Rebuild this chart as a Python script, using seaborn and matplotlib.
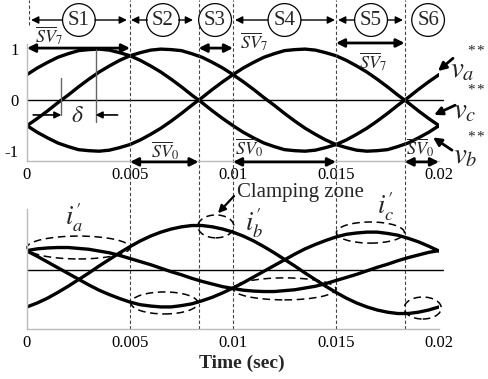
import numpy as np
import matplotlib
matplotlib.use("Agg")
import matplotlib.pyplot as plt
from matplotlib.patches import Ellipse
import seaborn as sns

# ---------------- data ----------------
time_s = np.linspace(0.0, 0.02, 41)  # one 50 Hz period, 0.5 ms samples

# modified voltage references (p.u.)
va_ref = [0.50, 0.63, 0.74, 0.84, 0.91, 0.97, 0.99, 1.00, 0.98, 0.93, 0.87,
          0.78, 0.67, 0.55, 0.41, 0.26, 0.10, -0.05, -0.21, -0.36, -0.50,
          -0.63, -0.74, -0.84, -0.91, -0.97, -0.99, -1.00, -0.98, -0.93, -0.87,
          -0.78, -0.67, -0.55, -0.41, -0.26, -0.10, 0.05, 0.21, 0.36, 0.50]
vb_ref = [-0.50, -0.36, -0.21, -0.05, 0.10, 0.26, 0.41, 0.55, 0.67, 0.78, 0.87,
          0.93, 0.98, 1.00, 0.99, 0.97, 0.91, 0.84, 0.74, 0.63, 0.50,
          0.36, 0.21, 0.05, -0.10, -0.26, -0.41, -0.55, -0.67, -0.78, -0.87,
          -0.93, -0.98, -1.00, -0.99, -0.97, -0.91, -0.84, -0.74, -0.63, -0.50]
vc_ref = [-0.50, -0.63, -0.74, -0.84, -0.91, -0.97, -0.99, -1.00, -0.98, -0.93, -0.87,
          -0.78, -0.67, -0.55, -0.41, -0.26, -0.10, 0.05, 0.21, 0.36, 0.50,
          0.63, 0.74, 0.84, 0.91, 0.97, 0.99, 1.00, 0.98, 0.93, 0.87,
          0.78, 0.67, 0.55, 0.41, 0.26, 0.10, -0.05, -0.21, -0.36, -0.50]

# phase currents (normalised)
ia_cur = [0.43, 0.47, 0.49, 0.50, 0.50, 0.48, 0.46, 0.42, 0.38, 0.32, 0.25,
          0.18, 0.11, 0.03, -0.05, -0.12, -0.20, -0.27, -0.33, -0.39, -0.43,
          -0.47, -0.49, -0.50, -0.50, -0.48, -0.46, -0.42, -0.38, -0.32, -0.25,
          -0.18, -0.11, -0.03, 0.05, 0.12, 0.20, 0.27, 0.33, 0.39, 0.43]
ib_cur = [-0.85, -0.76, -0.65, -0.52, -0.38, -0.23, -0.08, 0.08, 0.23, 0.38, 0.52,
          0.65, 0.76, 0.85, 0.92, 0.97, 1.00, 1.00, 0.97, 0.92, 0.85,
          0.76, 0.65, 0.52, 0.38, 0.23, 0.08, -0.08, -0.23, -0.38, -0.52,
          -0.65, -0.76, -0.85, -0.92, -0.97, -1.00, -1.00, -0.97, -0.92, -0.85]
ic_cur = [0.42, 0.30, 0.17, 0.04, -0.09, -0.22, -0.35, -0.47, -0.57, -0.66, -0.74,
          -0.80, -0.83, -0.85, -0.85, -0.82, -0.78, -0.71, -0.63, -0.53, -0.42,
          -0.30, -0.17, -0.04, 0.09, 0.22, 0.35, 0.47, 0.57, 0.66, 0.74,
          0.80, 0.83, 0.85, 0.85, 0.82, 0.78, 0.71, 0.63, 0.53, 0.42]

# sector boundaries and names
sector_edges = [0.0, 0.005, 0.00833, 0.01, 0.015, 0.01833]
sector_names = ["S1", "S2", "S3", "S4", "S5", "S6"]
sector_centres = [0.00252, 0.0066, 0.00913, 0.0125, 0.0167, 0.01947]

x_ticks = [0, 0.005, 0.01, 0.015, 0.02]
x_tick_labels = ["0", "0.005", "0.01", "0.015", "0.02"]
y_ticks_top = [-1, 0, 1]
y_tick_labels_top = ["-1", "0", "1"]

# ---------------- style ----------------
sns.set_theme(style="white")
plt.rcParams["font.family"] = ["Liberation Serif", "DejaVu Serif"]
plt.rcParams["mathtext.fontset"] = "stix"
plt.rcParams["axes.unicode_minus"] = False

fig = plt.figure(figsize=(4.88, 3.79), dpi=100)
ax1 = fig.add_axes([0.0553, 0.5747, 0.8443, 0.3092])
ax2 = fig.add_axes([0.0553, 0.1319, 0.8443, 0.3166])

SPINE = "#bbbbbb"
for ax in (ax1, ax2):
    ax.patch.set_visible(False)
    for s in ("top", "right"):
        ax.spines[s].set_visible(False)
    for s in ("left", "bottom"):
        ax.spines[s].set_color(SPINE)
        ax.spines[s].set_linewidth(1.0)
    ax.set_xlim(0, 0.02)
    ax.set_xticks(x_ticks)
    ax.set_xticklabels(x_tick_labels)
    ax.tick_params(direction="in", length=3, color=SPINE, labelsize=12,
                   pad=4, labelcolor="black")
    ax.axhline(0, xmin=0, xmax=1.01, color="black", lw=1.0, clip_on=False)

ax1.set_ylim(-1.196, 1.1)
ax1.set_yticks(y_ticks_top)
ax1.set_yticklabels(y_tick_labels_top)
ax1.tick_params(axis="y", pad=6)
ax2.set_ylim(-1.352, 1.375)
ax2.set_yticks([])

LW = 2.4
for ser in (va_ref, vb_ref, vc_ref):
    sns.lineplot(x=time_s, y=ser, ax=ax1, color="black", linewidth=LW,
                 estimator=None, sort=False, solid_joinstyle="round")
for ser in (ia_cur, ib_cur, ic_cur):
    sns.lineplot(x=time_s, y=ser, ax=ax2, color="black", linewidth=LW,
                 estimator=None, sort=False, solid_joinstyle="round")
for ax in (ax1, ax2):
    ax.set_xlabel("")
    ax.set_ylabel("")

# dashed sector boundaries running through both panels
DASH = dict(color="#444444", lw=0.8, ls=(0, (3, 2)), clip_on=False)
for e in sector_edges:
    if e == 0.0:
        ax1.axvline(e + 0.00012, ymin=1.16, ymax=1.375, **DASH)
    else:
        ax1.axvline(e, ymin=-1.435, ymax=1.375, **DASH)


def arrow(ax, tail, head, lw=1.0, style="-|>", ms=12):
    ax.annotate("", xy=head, xytext=tail, annotation_clip=False,
                arrowprops=dict(arrowstyle=style, color="black", lw=lw,
                                mutation_scale=ms, shrinkA=0, shrinkB=0))


# sector markers
ROW = 1.57
for name, c in zip(sector_names, sector_centres):
    ax1.text(c, ROW, name, ha="center", va="center", fontsize=15,
             bbox=dict(boxstyle="circle,pad=0.26", fc="white", ec="black", lw=0.9))
for tail, head in [(0.00172, 0.0002), (0.0033, 0.00485),
                   (0.00584, 0.00505), (0.00736, 0.00806),
                   (0.0117, 0.0101), (0.0133, 0.01495),
                   (0.0159, 0.0151), (0.01752, 0.01825)]:
    arrow(ax1, (tail, ROW), (head, ROW), lw=1.0, ms=11)

# zero-vector intervals
SV_FS = 13
for x0, x1, y in [(0.0, 0.005, 1.02), (0.00833, 0.01, 1.02), (0.015, 0.01833, 1.12)]:
    arrow(ax1, (x0, y), (x1, y), lw=2.0, style="<|-|>", ms=12)
for x0, x1 in [(0.005, 0.00833), (0.01, 0.015), (0.01833, 0.02)]:
    arrow(ax1, (x0, -1.21), (x1, -1.21), lw=2.0, style="<|-|>", ms=12)
for x, y in [(0.00105, 1.26), (0.0110, 1.15), (0.0168, 0.76)]:
    ax1.text(x, y, r"$\overline{SV}_7$", ha="center", va="center", fontsize=SV_FS)
for x, y in [(0.0067, -0.99), (0.0108, -0.92), (0.0191, -0.92)]:
    ax1.text(x, y, r"$\overline{SV}_0$", ha="center", va="center", fontsize=SV_FS)

# load angle marker
ax1.plot([0.00167, 0.00167], [0.43, -0.29], color="#666666", lw=1.0)
ax1.plot([0.00333, 0.00333], [1.0, -0.43], color="#666666", lw=1.0)
arrow(ax1, (0.0003, -0.29), (0.00167, -0.29), lw=1.2, ms=10)
arrow(ax1, (0.0044, -0.29), (0.00333, -0.29), lw=1.2, ms=10)
ax1.text(0.00243, -0.33, r"$\delta$", ha="center", va="center", fontsize=17)

# reference labels: symbol with subscript, double star raised at the right
V_FS = 21
STAR_X = 0.02226
for lbl, (tx, ty), star_y, tail, head in [
        (r"$v_a$", (0.02112, 0.58), 0.98, (0.02068, 0.82), (0.01995, 0.57)),
        (r"$v_c$", (0.02126, -0.22), 0.22, (0.02078, -0.10), (0.01976, -0.29)),
        (r"$v_b$", (0.02126, -1.10), -0.71, (0.02063, -0.98), (0.01971, -0.73))]:
    ax1.text(tx, ty, lbl, ha="center", va="center", fontsize=V_FS, clip_on=False)
    ax1.text(STAR_X, star_y, r"$\mathregular{**}$", ha="right", va="center",
             fontsize=11, clip_on=False)
    arrow(ax1, tail, head, lw=2.0, ms=12)

# current labels and clamping zones
I_FS = 19
ax2.text(0.00228, 1.19, r"$i_a^{\prime}$", ha="center", va="center", fontsize=I_FS)
ax2.text(0.0110, 1.06, r"$i_b^{\prime}$", ha="center", va="center", fontsize=I_FS)
ax2.text(0.01743, 1.42, r"$i_c^{\prime}$", ha="center", va="center", fontsize=I_FS)
ax2.text(0.0102, 1.74, "Clamping zone", ha="left", va="center", fontsize=15)
arrow(ax2, (0.01005, 1.67), (0.00927, 1.28), lw=1.6, ms=11)

for (cx, cy, w, h) in [(0.0025, 0.50, 0.0050, 0.52),
                       (0.00667, -0.76, 0.00325, 0.50),
                       (0.00917, 0.98, 0.00175, 0.52),
                       (0.0125, -0.44, 0.0050, 0.50),
                       (0.01667, 0.84, 0.0033, 0.48),
                       (0.01921, -0.875, 0.0018, 0.50)]:
    ax2.add_patch(Ellipse((cx, cy), w, h, fill=False, ec="black", lw=1.1,
                          ls=(0, (5, 3)), clip_on=False))

fig.text(0.496, 0.042, "Time (sec)", ha="center", va="center",
         fontsize=14, fontweight="bold")

fig.savefig("out.png", dpi=100)
